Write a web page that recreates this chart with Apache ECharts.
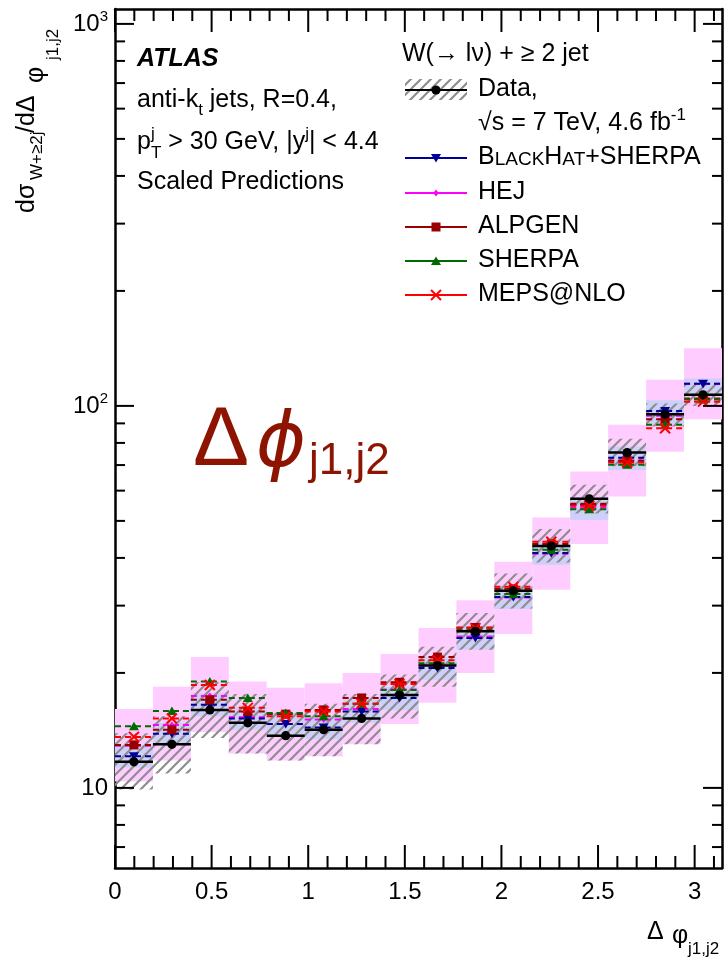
<!DOCTYPE html>
<html>
<head>
<meta charset="utf-8">
<script src="https://cdn.jsdelivr.net/npm/echarts@6/dist/echarts.min.js"></script>
<style>
  html, body { margin: 0; padding: 0; background: #ffffff; }
  #chart { width: 725px; height: 964px; }
</style>
</head>
<body>
<div id="chart"></div>
<script>
// Delta-phi(j1,j2) distribution: 16 equal bins on [0, pi]
const nBins = 16;
const binWidth = Math.PI / nBins;

// Measured cross section (data) and its systematic band
const dataY      = [11.7, 13.0, 16.0, 14.8, 13.7, 14.2, 15.2, 17.5, 20.9, 25.7, 32.8, 43.0, 57.1, 75.5, 95.1, 106.9];
const dataSystLo = [9.9, 10.9, 13.5, 12.3, 11.8, 12.1, 13.0, 15.2, 18.4, 23.0, 29.5, 38.9, 52.3, 69.5, 88.3, 100.0];
const dataSystHi = [13.9, 15.4, 18.9, 17.6, 15.8, 16.6, 17.6, 19.8, 23.4, 28.7, 36.4, 47.6, 62.2, 82.0, 101.5, 114.0];

// BlackHat+Sherpa with its uncertainty band
const bhY  = [12.1, 13.85, 16.5, 15.2, 14.7, 14.4, 15.85, 17.2, 20.6, 24.7, 31.6, 41.2, 55.0, 73.2, 97.0, 114.2];
const bhLo = [11.3, 12.9, 15.4, 14.2, 13.7, 13.4, 14.8, 16.0, 19.2, 23.0, 29.4, 38.4, 50.3, 68.0, 89.8, 106.0];
const bhHi = [12.9, 14.8, 17.7, 16.3, 15.7, 15.4, 17.0, 18.4, 22.0, 26.4, 33.8, 44.1, 57.7, 78.3, 103.4, 118.0];

// HEJ with its uncertainty band
const hejY  = [12.9, 14.6, 17.4, 15.3, 14.7, 15.1, 16.1, 18.1, 20.9, 24.9, 31.5, 41.0, 54.1, 71.9, 94.2, 114.3];
const hejLo = [10.4, 11.8, 14.0, 12.3, 11.8, 12.1, 13.0, 14.7, 16.7, 20.0, 25.3, 33.0, 43.5, 57.9, 75.9, 92.3];
const hejHi = [16.1, 18.4, 22.0, 19.0, 18.3, 18.8, 20.0, 22.4, 26.2, 31.0, 39.1, 51.0, 67.3, 89.2, 117.0, 141.6];

// Other generators
const alpgenY = [12.96, 14.2, 17.0, 15.85, 15.6, 16.0, 17.2, 18.9, 22.0, 26.3, 33.2, 43.5, 55.4, 71.8, 92.3, 104.5];
const sherpaY = [14.5, 15.9, 19.0, 17.2, 15.7, 15.4, 16.6, 18.05, 21.2, 25.9, 32.2, 42.0, 53.6, 70.1, 89.2, 104.0];
const mepsY   = [13.6, 15.2, 18.6, 16.2, 15.4, 15.85, 16.6, 18.7, 21.6, 26.2, 33.6, 44.1, 54.8, 71.1, 87.4, 102.6];

// Axis ranges and tick positions
const X_MIN = 0, X_MAX = Math.PI;
const Y_MIN = 6.17, Y_MAX = 1094;
const xMajor = [0, 0.5, 1, 1.5, 2, 2.5, 3];
const xMinor = [0.1, 0.2, 0.3, 0.4, 0.6, 0.7, 0.8, 0.9, 1.1, 1.2, 1.3, 1.4, 1.6, 1.7, 1.8, 1.9,
                2.1, 2.2, 2.3, 2.4, 2.6, 2.7, 2.8, 2.9, 3.1];
const yMajor = [10, 100, 1000];
const yMinor = [7, 8, 9, 20, 30, 40, 50, 60, 70, 80, 90, 200, 300, 400, 500, 600, 700, 800, 900];

const FONT = '"Liberation Sans", Arial, Helvetica, sans-serif';
const COL = {
  data: '#000000', bh: '#000099', hej: '#ff00ff', alpgen: '#990000',
  sherpa: '#006a00', meps: '#ff0000',
  hejBand: '#ffccff', bhBand: '#cdd0f8', hatch: '#8e8e8e', label: '#8c1400'
};

// Diagonal hatch used for the data systematic band
function makeHatch() {
  const s = 10;
  const c = document.createElement('canvas');
  c.width = s; c.height = s;
  const g = c.getContext('2d');
  g.strokeStyle = COL.hatch;
  g.lineWidth = 2.2;
  g.beginPath();
  g.moveTo(-2, s + 2); g.lineTo(s + 2, -2);
  g.moveTo(-2, 2); g.lineTo(2, -2);
  g.moveTo(s - 2, s + 2); g.lineTo(s + 2, s - 2);
  g.stroke();
  return { image: c, repeat: 'repeat' };
}
const hatchFill = makeHatch();

function marker(kind, x, y, color) {
  const r = 5;
  switch (kind) {
    case 'down':
      return { type: 'polygon', shape: { points: [[x - r, y - r * 0.8], [x + r, y - r * 0.8], [x, y + r * 0.9]] }, style: { fill: color } };
    case 'up':
      return { type: 'polygon', shape: { points: [[x - r, y + r * 0.8], [x + r, y + r * 0.8], [x, y - r * 0.9]] }, style: { fill: color } };
    case 'square':
      return { type: 'rect', shape: { x: x - 4.5, y: y - 4.5, width: 9, height: 9 }, style: { fill: color } };
    case 'diamond':
      return { type: 'polygon', shape: { points: [[x, y - 3.5], [x + 2.8, y], [x, y + 3.5], [x - 2.8, y]] }, style: { fill: color } };
    case 'cross':
      return { type: 'group', children: [
        { type: 'line', shape: { x1: x - r, y1: y - r, x2: x + r, y2: y + r }, style: { stroke: color, lineWidth: 2 } },
        { type: 'line', shape: { x1: x - r, y1: y + r, x2: x + r, y2: y - r }, style: { stroke: color, lineWidth: 2 } }
      ] };
    default:
      return { type: 'circle', shape: { cx: x, cy: y, r: 4.6 }, style: { fill: color } };
  }
}

// Rectangular band per bin (lo..hi)
function bandSeries(lo, hi, fill, z) {
  return {
    type: 'custom', coordinateSystem: 'cartesian2d', z: z, silent: true, animation: false,
    encode: { x: [0, 1], y: [2, 3] },
    data: lo.map((l, i) => [i * binWidth, (i + 1) * binWidth, l, hi[i]]),
    renderItem: function (params, api) {
      const a = api.coord([api.value(0), api.value(3)]);
      const b = api.coord([api.value(1), api.value(2)]);
      return { type: 'rect', shape: { x: a[0], y: a[1], width: b[0] - a[0], height: b[1] - a[1] }, style: { fill: fill } };
    }
  };
}

// Horizontal bin-wide segment with a centred marker
function stepSeries(values, color, kind, dashed, width, z) {
  return {
    type: 'custom', coordinateSystem: 'cartesian2d', z: z, silent: true, animation: false,
    encode: { x: [0, 1], y: 2 },
    data: values.map((v, i) => [i * binWidth, (i + 1) * binWidth, v]),
    renderItem: function (params, api) {
      const a = api.coord([api.value(0), api.value(2)]);
      const b = api.coord([api.value(1), api.value(2)]);
      return { type: 'group', children: [
        { type: 'line', shape: { x1: a[0], y1: a[1], x2: b[0], y2: b[1] },
          style: { stroke: color, lineWidth: width, lineDash: dashed ? [6, 4] : null } },
        marker(kind, (a[0] + b[0]) / 2, a[1], color)
      ] };
    }
  };
}

// Inward ticks on all four sides of the frame
const tickSeries = {
  type: 'custom', coordinateSystem: 'cartesian2d', z: 20, silent: true, animation: false,
  data: [[1, 10]],
  renderItem: function (params, api) {
    const L = api.coord([X_MIN, Y_MIN])[0], R = api.coord([X_MAX, Y_MIN])[0];
    const B = api.coord([X_MIN, Y_MIN])[1], T = api.coord([X_MIN, Y_MAX])[1];
    const ch = [];
    const seg = (x1, y1, x2, y2) => ch.push({ type: 'line', shape: { x1, y1, x2, y2 }, style: { stroke: '#000', lineWidth: 2 } });
    xMajor.forEach(v => { const x = api.coord([v, Y_MIN])[0]; seg(x, B, x, B - 23); seg(x, T, x, T + 23); });
    xMinor.forEach(v => { const x = api.coord([v, Y_MIN])[0]; seg(x, B, x, B - 12); seg(x, T, x, T + 12); });
    yMajor.forEach(v => { const y = api.coord([X_MIN, v])[1]; seg(L, y, L + 19, y); seg(R, y, R - 19, y); });
    yMinor.forEach(v => { const y = api.coord([X_MIN, v])[1]; seg(L, y, L + 10, y); seg(R, y, R - 10, y); });
    return { type: 'group', children: ch };
  }
};

// ---- text helpers -------------------------------------------------------
const mctx = document.createElement('canvas').getContext('2d');
function fontOf(p) {
  return (p.i ? 'italic ' : '') + (p.b ? 'bold ' : '') + p.s + 'px ' + (p.f || FONT);
}
// pieces placed left to right from (x, baseline); p.x forces an absolute offset
function textRun(x, base, pieces, color) {
  const out = [];
  let cx = x;
  pieces.forEach(p => {
    if (p.x !== undefined) cx = x + p.x;
    const font = fontOf(p);
    mctx.font = font;
    const w = mctx.measureText(p.t).width;
    out.push({
      type: 'text', silent: true,
      style: { text: p.t, x: cx, y: base + (p.dy || 0) - 0.34 * p.s, font: font,
               fill: p.c || color || '#000', textAlign: 'left', textVerticalAlign: 'middle' }
    });
    if (!p.stay) cx += w;
  });
  return out;
}

const TS = 25;   // annotation text size
const SS = 17;   // sub/superscript size

const graphics = [];

// Left block of labels
graphics.push(...textRun(137, 68, [{ t: 'ATLAS', s: TS, b: true, i: true }]));
graphics.push(...textRun(137, 109, [
  { t: 'anti-k', s: TS }, { t: 't', s: SS, dy: 7 }, { t: ' jets, R=0.4,', s: TS }
]));
graphics.push(...textRun(137, 151, [
  { t: 'p', s: TS }, { t: 'j', s: SS, dy: -11, stay: true }, { t: 'T', s: SS, dy: 8 },
  { t: ' > 30 GeV, |y', s: TS }, { t: 'j', s: SS, dy: -11 }, { t: '| < 4.4', s: TS }
]));
graphics.push(...textRun(137, 191, [{ t: 'Scaled Predictions', s: TS }]));

// Legend block
const LX0 = 405, LX1 = 467, LXM = 436, LTX = 478;
graphics.push(...textRun(402, 63, [{ t: 'W(\u2192 l\u03bd) + \u2265 2 jet', s: TS }]));
graphics.push({ type: 'rect', silent: true, shape: { x: LX0, y: 79, width: LX1 - LX0, height: 21 }, style: { fill: hatchFill } });
graphics.push({ type: 'line', silent: true, shape: { x1: LX0, y1: 90, x2: LX1, y2: 90 }, style: { stroke: COL.data, lineWidth: 2 } });
graphics.push(marker('dot', LXM, 90, COL.data));
graphics.push(...textRun(LTX, 98, [{ t: 'Data,', s: TS }]));
graphics.push(...textRun(LTX, 132, [
  { t: '\u221as = 7 TeV, 4.6 fb', s: TS }, { t: '-1', s: SS, dy: -11 }
]));
const legendRows = [
  { y: 158, color: COL.bh, kind: 'down', text: [
    { t: 'B', s: TS }, { t: 'LACK', s: 19 }, { t: 'H', s: TS }, { t: 'AT', s: 19 }, { t: '+SHERPA', s: TS }] },
  { y: 193, color: COL.hej, kind: 'diamond', text: [{ t: 'HEJ', s: TS }] },
  { y: 227, color: COL.alpgen, kind: 'square', text: [{ t: 'ALPGEN', s: TS }] },
  { y: 261, color: COL.sherpa, kind: 'up', text: [{ t: 'SHERPA', s: TS }] },
  { y: 295, color: COL.meps, kind: 'cross', text: [{ t: 'MEPS@NLO', s: TS }] }
];
legendRows.forEach(r => {
  graphics.push({ type: 'line', silent: true, shape: { x1: LX0, y1: r.y, x2: LX1, y2: r.y }, style: { stroke: r.color, lineWidth: 2 } });
  graphics.push(marker(r.kind, LXM, r.y, r.color));
  graphics.push(...textRun(LTX, r.y + 8, r.text));
});

// Large variable label
graphics.push(...textRun(193, 470, [{ t: '\u0394', s: 84, c: COL.label }]));
graphics.push(...textRun(256, 472, [{ t: '\u03d5', s: 76, i: true, f: '"DejaVu Sans", sans-serif', c: COL.label }]));
graphics.push(...textRun(309, 477, [{ t: 'j1,j2', s: 44, c: COL.label }]));

// Y axis title (rotated, reading bottom to top)
graphics.push({
  type: 'group', x: 35.5, y: 213, rotation: Math.PI / 2, silent: true,
  children: [
    ...textRun(0, 0, [{ t: 'd\u03c3', s: TS }]),
    ...textRun(33, 0, [{ t: 'W+\u22652j', s: SS, dy: 8 }]),
    ...textRun(80, 0, [{ t: '/d\u0394', s: TS }]),
    ...textRun(130, 0, [{ t: '\u03c6', s: TS, dy: 9 }]),
    ...textRun(153, 0, [{ t: 'j1,j2', s: SS, dy: 24 }])
  ]
});

// X axis title
graphics.push(...textRun(647, 941, [{ t: '\u0394', s: TS }]));
graphics.push(...textRun(672, 945, [{ t: '\u03c6', s: TS }]));
graphics.push(...textRun(688, 955, [{ t: 'j1,j2', s: SS }]));

// ---- chart --------------------------------------------------------------
const axisLine = { show: true, onZero: false, lineStyle: { color: '#000', width: 2.5 } };
const chart = echarts.init(document.getElementById('chart'), null, { renderer: 'canvas' });
chart.setOption({
  animation: false,
  backgroundColor: '#ffffff',
  grid: { left: 115, right: 2, top: 9, bottom: 96, containLabel: false },
  xAxis: [
    {
      type: 'value', position: 'bottom', min: X_MIN, max: X_MAX, interval: 0.5,
      axisLine: axisLine, axisTick: { show: false }, splitLine: { show: false },
      axisLabel: {
        show: true, margin: 12, fontSize: 24, color: '#000', fontFamily: FONT,
        formatter: v => (Math.abs(v * 2 - Math.round(v * 2)) < 1e-6 && v <= 3.0001) ? String(Math.round(v * 2) / 2) : ''
      }
    },
    {
      type: 'value', position: 'top', min: X_MIN, max: X_MAX, interval: 0.5,
      axisLine: axisLine, axisTick: { show: false }, splitLine: { show: false }, axisLabel: { show: false }
    }
  ],
  yAxis: [
    {
      type: 'log', logBase: 10, position: 'left', min: Y_MIN, max: Y_MAX,
      axisLine: axisLine, axisTick: { show: false }, splitLine: { show: false },
      axisLabel: {
        show: true, margin: 7, fontSize: 24, color: '#000', fontFamily: FONT,
        formatter: v => {
          const e = Math.log10(v);
          if (Math.abs(e - Math.round(e)) > 1e-6) return '';
          const n = Math.round(e);
          return n === 1 ? '10' : '10{s|' + n + '}';
        },
        rich: { s: { fontSize: 15, color: '#000', fontFamily: FONT, padding: [0, 0, 14, 0] } }
      }
    },
    {
      type: 'log', logBase: 10, position: 'right', min: Y_MIN, max: Y_MAX,
      axisLine: axisLine, axisTick: { show: false }, splitLine: { show: false }, axisLabel: { show: false }
    }
  ],
  series: [
    bandSeries(hejLo, hejHi, COL.hejBand, 1),
    bandSeries(bhLo, bhHi, COL.bhBand, 2),
    bandSeries(dataSystLo, dataSystHi, hatchFill, 3),
    stepSeries(hejY, COL.hej, 'diamond', true, 2, 4),
    stepSeries(bhY, COL.bh, 'down', true, 2, 4),
    stepSeries(alpgenY, COL.alpgen, 'square', true, 2, 4),
    stepSeries(sherpaY, COL.sherpa, 'up', true, 2, 4),
    stepSeries(mepsY, COL.meps, 'cross', true, 2, 4),
    stepSeries(dataY, COL.data, 'dot', false, 2.5, 5),
    tickSeries
  ],
  graphic: { elements: graphics }
});
</script>
</body>
</html>
